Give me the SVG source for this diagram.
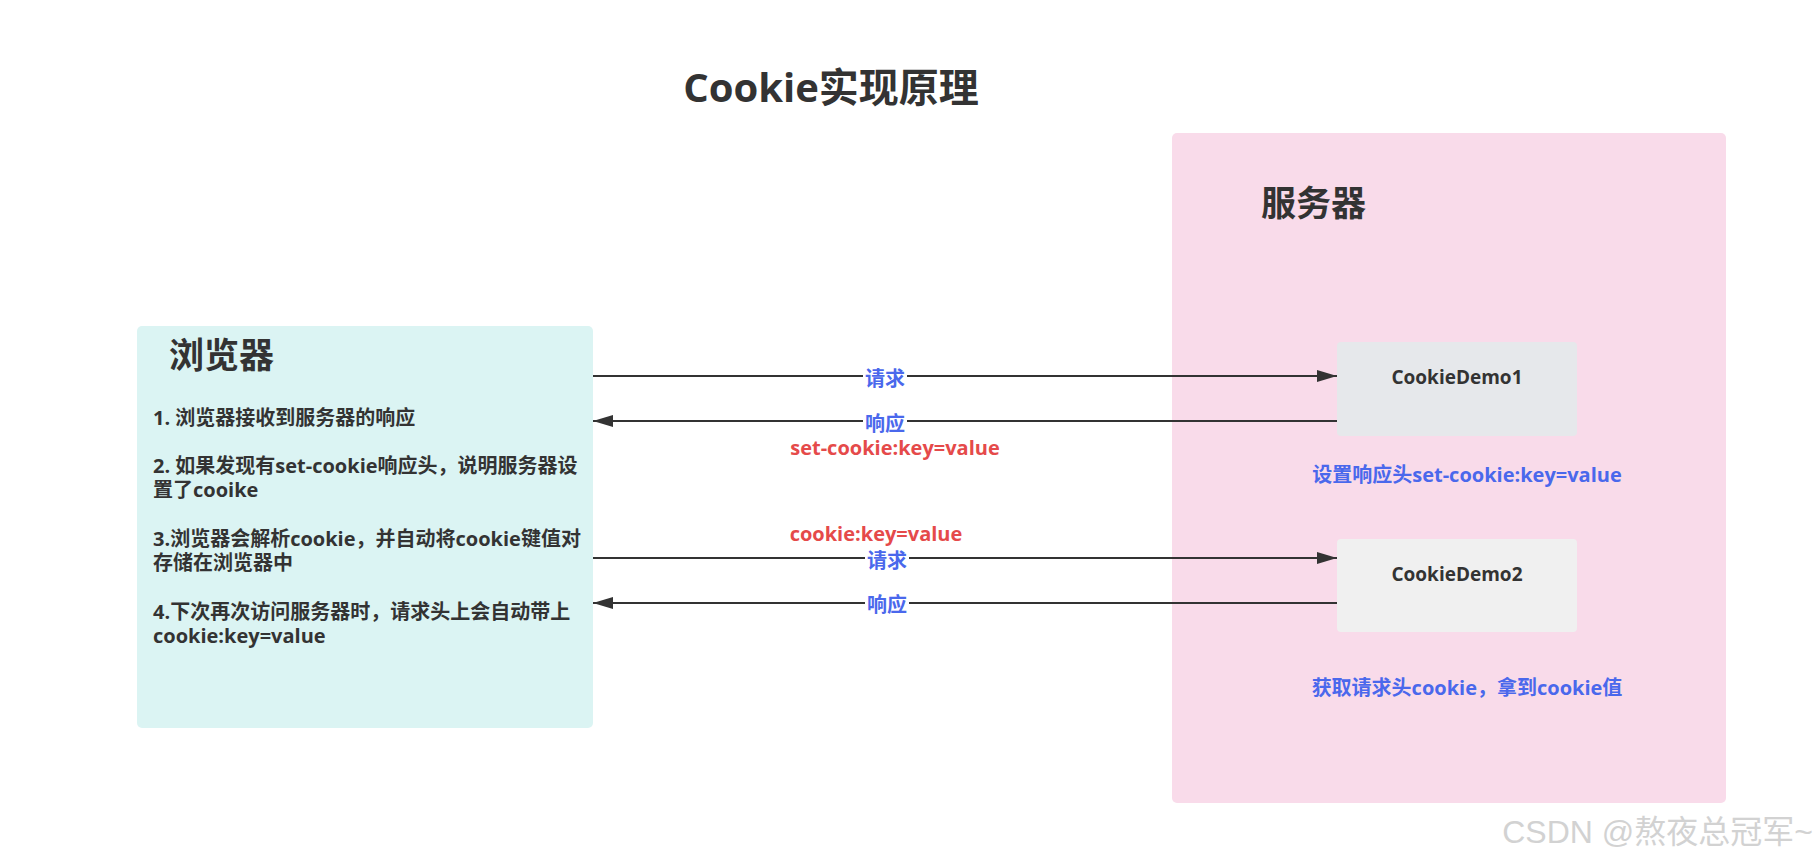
<svg xmlns="http://www.w3.org/2000/svg" width="1819" height="867" viewBox="0 0 1819 867">
<style>
text{font-family:"Open Sans","Noto Sans CJK SC",sans-serif;font-weight:700}
.title{font-size:40px;fill:#333}
.head{font-size:35px;fill:#333}
.item{font-size:20px;fill:#333}
.demo{font-size:19px;fill:#333;font-weight:700}
.blue{font-size:20px;fill:#4a68ec}
.red{font-size:20px;fill:#e54a4a}
.conn{stroke:#333;stroke-width:2.2;fill:none}
.lbg{fill:#fff}
.wm{font-family:"Liberation Sans","Noto Sans CJK SC",sans-serif;font-weight:400;font-size:32px;fill:#d2d2d2}
</style>
<defs>
<marker id="arr" viewBox="0 0 20 12" refX="20" refY="6" markerWidth="20" markerHeight="12" orient="auto-start-reverse" markerUnits="userSpaceOnUse">
<path d="M0,0 L20,6 L0,12 z" fill="#333"/>
</marker>
</defs>
<rect width="1819" height="867" fill="#fff"/>
<g id="title">
<text class="title" x="831" y="102" text-anchor="middle">Cookie实现原理</text>
</g>
<g id="server">
<rect x="1172" y="133" width="554" height="670" rx="5" fill="#f9dbea"/>
<text class="head" x="1261" y="216">服务器</text>
</g>
<g id="browser">
<rect x="137" y="326" width="456" height="402" rx="5" fill="#dbf4f3"/>
<text class="head" x="169" y="368">浏览器</text>
<text class="item" x="153" y="425">1. 浏览器接收到服务器的响应</text>
<text class="item" x="153" y="473">2. 如果发现有set-cookie响应头，说明服务器设</text>
<text class="item" x="153" y="497">置了cooike</text>
<text class="item" x="153" y="546">3.浏览器会解析cookie，并自动将cookie键值对</text>
<text class="item" x="153" y="570">存储在浏览器中</text>
<text class="item" x="153" y="619">4.下次再次访问服务器时，请求头上会自动带上</text>
<text class="item" x="153" y="643">cookie:key=value</text>
</g>
<g id="cookieDemo1">
<rect x="1337" y="342" width="240" height="94" rx="4" fill="#e6e8eb"/>
<text class="demo" x="1457" y="384" text-anchor="middle">CookieDemo1</text>
</g>
<g id="note1">
<text class="blue" x="1467" y="482" text-anchor="middle">设置响应头set-cookie:key=value</text>
</g>
<g id="cookieDemo2">
<rect x="1337" y="539" width="240" height="93" rx="4" fill="#f0f0f0"/>
<text class="demo" x="1457" y="581" text-anchor="middle">CookieDemo2</text>
</g>
<g id="note2">
<text class="blue" x="1467" y="695" text-anchor="middle">获取请求头cookie，拿到cookie值</text>
</g>
<g id="connectors">
<line class="conn" x1="593" y1="376" x2="1337" y2="376" marker-end="url(#arr)"/>
<rect class="lbg" x="863" y="367" width="44" height="24"/>
<text class="blue" x="885" y="386" text-anchor="middle">请求</text>
<line class="conn" x1="1337" y1="421" x2="593" y2="421" marker-end="url(#arr)"/>
<rect class="lbg" x="863" y="412" width="44" height="24"/>
<text class="blue" x="885" y="431" text-anchor="middle">响应</text>
<text class="red" x="895" y="455" text-anchor="middle">set-cookie:key=value</text>
<text class="red" x="876" y="541" text-anchor="middle">cookie:key=value</text>
<line class="conn" x1="593" y1="558" x2="1337" y2="558" marker-end="url(#arr)"/>
<rect class="lbg" x="865" y="549" width="44" height="24"/>
<text class="blue" x="887" y="568" text-anchor="middle">请求</text>
<line class="conn" x1="1337" y1="603" x2="593" y2="603" marker-end="url(#arr)"/>
<rect class="lbg" x="865" y="594" width="44" height="24"/>
<text class="blue" x="887" y="612" text-anchor="middle">响应</text>
</g>
<g id="watermark">
<text class="wm" x="1813" y="843" text-anchor="end">CSDN @熬夜总冠军~</text>
</g>
</svg>
